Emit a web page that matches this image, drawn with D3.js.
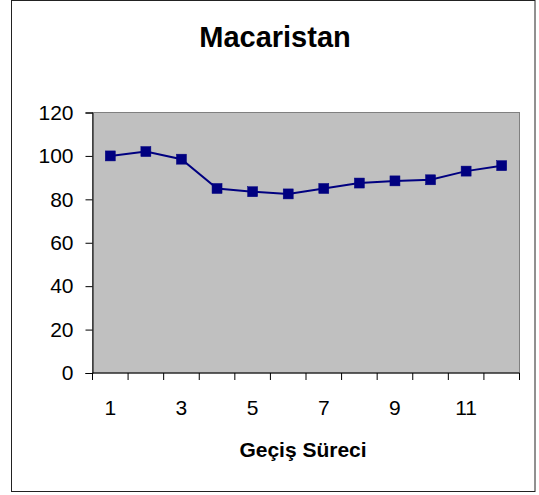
<!DOCTYPE html>
<html>
<head>
<meta charset="utf-8">
<script src="https://cdn.jsdelivr.net/npm/d3@7"></script>
<style>
  body { margin: 0; background: #fff; }
  svg text { font-family: "Liberation Sans", Arial, sans-serif; }
</style>
</head>
<body>
<div id="chart"></div>
<script>
"use strict";

// data
var periods = ["1", "2", "3", "4", "5", "6", "7", "8", "9", "10", "11", "12"];
var values = [100, 102, 98.5, 85, 83.5, 82.5, 85, 87.5, 88.5, 89, 93, 95.5];
var yTicks = [0, 20, 40, 60, 80, 100, 120];
var xLabels = ["1", "3", "5", "7", "9", "11"];

var W = 539, H = 495;
var plot = { left: 92.5, right: 519.5, top: 112.5, bottom: 373 };

var svg = d3.select("#chart").append("svg")
  .attr("width", W)
  .attr("height", H);

// outer chart frame
svg.append("rect")
  .attr("x", 11.5).attr("y", 0.5)
  .attr("width", 523.5).attr("height", 491)
  .attr("fill", "#fff")
  .attr("stroke", "#222")
  .attr("stroke-width", 1);

var x = d3.scaleBand().domain(periods).range([plot.left, plot.right]);
var y = d3.scaleLinear().domain([0, 120]).range([plot.bottom, plot.top]);

// gray plot area
svg.append("rect")
  .attr("x", plot.left).attr("y", plot.top)
  .attr("width", plot.right - plot.left)
  .attr("height", plot.bottom - plot.top)
  .attr("fill", "#c0c0c0")
  .attr("stroke", "#808080")
  .attr("stroke-width", 1);

// y axis
var yAxis = svg.append("g")
  .attr("transform", "translate(" + plot.left + ",0)")
  .call(d3.axisLeft(y).tickValues(yTicks).tickSize(7).tickPadding(12));
yAxis.select(".domain").attr("stroke", "#000");
yAxis.selectAll(".tick line").attr("stroke", "#000");
yAxis.selectAll("text")
  .attr("font-size", "21px")
  .attr("fill", "#000");

// x axis: ticks on band edges, labels on every other band
var xAxis = svg.append("g")
  .attr("transform", "translate(0," + plot.bottom + ")");
xAxis.append("line")
  .attr("x1", plot.left).attr("x2", plot.right)
  .attr("stroke", "#000");
xAxis.selectAll("line.tick")
  .data(periods.concat(["end"]))
  .enter()
  .append("line")
  .attr("class", "tick")
  .attr("x1", function(d, i) { return plot.left + i * x.step(); })
  .attr("x2", function(d, i) { return plot.left + i * x.step(); })
  .attr("y1", 0).attr("y2", 7)
  .attr("stroke", "#000");
xAxis.selectAll("text")
  .data(xLabels)
  .enter()
  .append("text")
  .attr("x", function(d) { return x(d) + x.bandwidth() / 2; })
  .attr("y", 42)
  .attr("text-anchor", "middle")
  .attr("font-size", "21px")
  .text(function(d) { return d; });

// line + square markers
var line = d3.line()
  .x(function(d, i) { return x(periods[i]) + x.bandwidth() / 2; })
  .y(function(d) { return y(d); });

svg.append("path")
  .datum(values)
  .attr("d", line)
  .attr("fill", "none")
  .attr("stroke", "#000080")
  .attr("stroke-width", 2);

svg.selectAll("rect.marker")
  .data(values)
  .enter()
  .append("rect")
  .attr("class", "marker")
  .attr("x", function(d, i) { return x(periods[i]) + x.bandwidth() / 2 - 5; })
  .attr("y", function(d) { return y(d) - 5; })
  .attr("width", 10).attr("height", 10)
  .attr("fill", "#000080")
  .attr("stroke", "#000080")
  .attr("stroke-width", 0.5);

// titles
svg.append("text")
  .attr("x", 275).attr("y", 47)
  .attr("text-anchor", "middle")
  .attr("font-size", "29px")
  .attr("font-weight", "bold")
  .text("Macaristan");

svg.append("text")
  .attr("x", 303).attr("y", 457)
  .attr("text-anchor", "middle")
  .attr("font-size", "21px")
  .attr("font-weight", "bold")
  .text("Geçiş Süreci");
</script>
</body>
</html>
